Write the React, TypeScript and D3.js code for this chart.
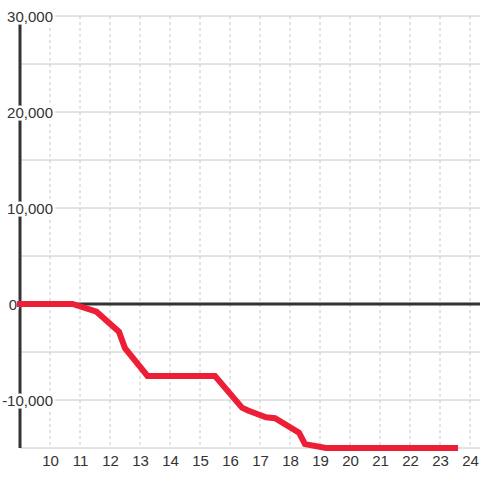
import React from "react";
import * as d3 from "d3";

const hours = [9, 10.75, 11.55, 12.3, 12.5, 13.25, 15.5, 16.4, 16.6, 17.2, 17.5, 18.3, 18.5, 19.2, 23.5];
const values = [0, 0, -800, -2900, -4600, -7500, -7500, -10800, -11100, -11800, -11900, -13400, -14600, -15000, -15000];
const xTicks = [10, 11, 12, 13, 14, 15, 16, 17, 18, 19, 20, 21, 22, 23, 24];
const yGrid = [-15000, -10000, -5000, 0, 5000, 10000, 15000, 20000, 25000, 30000];
const yLabels = [-10000, 0, 10000, 20000, 30000];

const W = 480;
const H = 480;
const FONT = "'Liberation Sans', Arial, sans-serif";

export default function App() {
  const x = d3.scaleLinear().domain([9, 24]).range([20, 470]);
  const y = d3.scaleLinear().domain([-15000, 30000]).range([448, 16]);
  const fmt = d3.format(",");
  const line = d3
    .line<number>()
    .x((_, i) => x(hours[i]))
    .y((d) => y(d));
  const x0 = x(9);
  return (
    <svg
      width={W}
      height={H}
      style={{ position: "absolute", left: 0, top: 0, background: "#fff" }}
    >
      {xTicks.map((t) => (
        <line
          key={"vx" + t}
          x1={x(t)}
          x2={x(t)}
          y1={y(30000)}
          y2={y(-15000)}
          stroke="#c8c8c8"
          strokeWidth={1}
          strokeDasharray="3,3"
        />
      ))}
      {yGrid.map((v) => (
        <line
          key={"hy" + v}
          x1={x0}
          x2={W}
          y1={y(v)}
          y2={y(v)}
          stroke="#c8c8c8"
          strokeWidth={1}
        />
      ))}
      <line x1={x0} x2={W} y1={y(0)} y2={y(0)} stroke="#333" strokeWidth={3} />
      <line x1={x0} x2={x0} y1={y(30000)} y2={y(-15000)} stroke="#333" strokeWidth={3} />
      {yLabels.map((v) => (
        <text
          key={"yl" + v}
          x={v === 0 ? 17 : 53}
          y={y(v) + 6}
          textAnchor="end"
          fontFamily={FONT}
          fontSize={15}
          fill="#333"
          stroke="#fff"
          strokeWidth={5}
          paintOrder="stroke"
          strokeLinejoin="round"
        >
          {v < 0 ? "-" + fmt(-v) : fmt(v)}
        </text>
      ))}
      {xTicks.map((t) => (
        <text
          key={"xl" + t}
          x={x(t) + 0.5}
          y={466}
          textAnchor="middle"
          fontFamily={FONT}
          fontSize={15}
          fill="#333"
        >
          {t}
        </text>
      ))}
      <path
        d={line(values) || ""}
        fill="none"
        stroke="#ed1f37"
        strokeWidth={6}
        strokeLinecap="square"
        strokeLinejoin="miter"
      />
    </svg>
  );
}
